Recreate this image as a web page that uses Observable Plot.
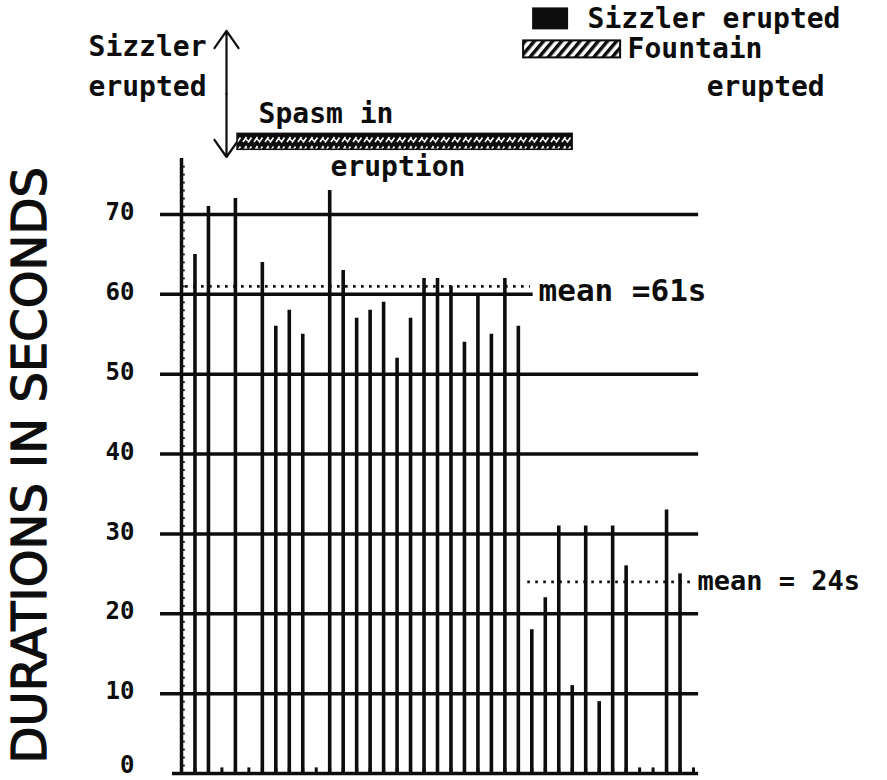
<!DOCTYPE html>
<html><head><meta charset="utf-8">
<script src="https://cdn.jsdelivr.net/npm/d3@7"></script>
<script src="https://cdn.jsdelivr.net/npm/@observablehq/plot@0.6"></script>
<style>body{margin:0;background:#fff} svg{display:block}</style>
</head><body><div id="chart"></div>
<script>
// eruption slots along the x axis (1..38)
const slots = [1,2,3,4,5,6,7,8,9,10,11,12,13,14,15,16,17,18,19,20,21,22,23,24,25,26,27,28,29,30,31,32,33,34,35,36,37,38];
// durations in seconds (null = no eruption in that slot)
const durations = [65,71,null,72,null,64,56,58,55,null,73,63,57,58,59,52,57,62,62,61,54,60,55,62,56,18,22,31,11,31,9,31,26,null,null,33,25,null];
const gridValues = [10,20,30,40,50,60,70];
const yTicks = [0,10,20,30,40,50,60,70];
const meanBefore = 61, meanAfter = 24;
const meanLabels = ["mean =61s", "mean = 24s"];
const yTitle = "DURATIONS IN SECONDS";
const annoLeft = ["Sizzler", "erupted"];
const spasmLabels = ["Spasm in", "eruption"];
const legendLabels = ["Sizzler erupted", "Fountain", "erupted"];

const bars = slots.map((s, i) => ({slot: s, dur: durations[i]})).filter(d => d.dur != null);
const ink = "#0d0d0d";
const mono = "DejaVu Sans Mono";
const txt = (label, x, y, size = 28) =>
  Plot.text([label], {x, y, text: d => d, textAnchor: "start", fontSize: size, fontWeight: "bold", fill: ink});

const chart = Plot.plot({
  width: 887, height: 780,
  marginLeft: 181, marginRight: 194, marginTop: 214, marginBottom: 7,
  x: {type: "linear", domain: [0, 38], axis: null},
  y: {domain: [0, 70], axis: null},
  style: {fontFamily: mono, color: ink, background: "#fff"},
  marks: [
    // horizontal grid lines
    Plot.ruleY(gridValues, {x1: -1.56, x2: d => d === 60 ? 26.1 : 38.38, stroke: ink, strokeWidth: 3.5}),
    // baseline
    Plot.ruleY([0], {x1: -0.67, x2: 38.38, stroke: ink, strokeWidth: 3.5}),
    // y axis line and minor ticks
    Plot.ruleX([0], {y1: 0, y2: 77, stroke: ink, strokeWidth: 3.5}),
    Plot.ruleY(d3.range(1, 77), {x1: 0, x2: 0.28, stroke: ink, strokeWidth: 1.8}),
    // small x ticks at each slot
    Plot.ruleX(slots, {y1: 0, y2: 0.7, stroke: ink, strokeWidth: 3}),
    // bars
    Plot.ruleX(bars, {x: "slot", y1: 0, y2: "dur", stroke: ink, strokeWidth: 3.6}),
    // mean lines
    Plot.ruleY([meanBefore], {x1: 0.3, x2: 25.9, stroke: ink, strokeWidth: 2.6, strokeDasharray: "2.6,5.4"}),
    Plot.ruleY([meanAfter], {x1: 25.7, x2: 37.8, stroke: ink, strokeWidth: 2.6, strokeDasharray: "2.6,5.4"}),
    txt(meanLabels[0], 26.5, 60.4, 31),
    txt(meanLabels[1], 38.3, 24.1, 27),
    // y tick labels
    Plot.text(yTicks.filter(d => d > 0), {x: 0, y: d => d, dx: -47, dy: -2, text: d => String(d), textAnchor: "end", fontSize: 24, fontWeight: "bold", fill: ink}),
    Plot.text(yTicks.filter(d => d === 0), {x: 0, y: d => d, dx: -47, dy: -8, text: d => String(d), textAnchor: "end", fontSize: 24, fontWeight: "bold", fill: ink}),
    // y title
    Plot.text([yTitle], {x: -11.2, y: 38.6, text: d => d, rotate: -90, fontSize: 48, fontFamily: "DejaVu Sans", stroke: ink, strokeWidth: 1.2, fill: ink}),
    // left annotation
    txt(annoLeft[0], -6.9, 91.0),
    txt(annoLeft[1], -6.9, 85.9),
    Plot.arrow([{a: 85.1, b: 93.0}, {a: 85.1, b: 77.2}], {x1: 3.34, x2: 3.34, y1: "a", y2: "b", stroke: ink, strokeWidth: 2.2, headLength: 16, headAngle: 70}),
    // spasm bar
    txt(spasmLabels[0], 5.72, 82.6),
    Plot.rect([0], {x1: 4.16, x2: 29.03, y1: 78.1, y2: 80.1, fill: "url(#spasm)", stroke: ink, strokeWidth: 1.5}),
    txt(spasmLabels[1], 11.06, 75.9),
    // legend
    Plot.rect([0], {x1: 26.06, x2: 28.73, y1: 93.12, y2: 95.87, fill: ink}),
    txt(legendLabels[0], 30.14, 94.5),
    Plot.rect([0], {x1: 25.39, x2: 32.59, y1: 89.61, y2: 91.74, fill: "url(#fountain)", stroke: ink, strokeWidth: 2}),
    txt(legendLabels[1], 33.11, 90.74),
    txt(legendLabels[2], 38.98, 85.9)
  ]
});

const ns = "http://www.w3.org/2000/svg";
const defs = document.createElementNS(ns, "defs");
defs.innerHTML = `
<pattern id="spasm" width="11" height="9" patternUnits="userSpaceOnUse">
  <rect width="11" height="9" fill="${ink}"/>
  <path d="M1,7 L4.5,2 M6,7.5 L9.5,2.5 M3.5,3.5 L6,6" stroke="#fff" stroke-width="1.6" fill="none"/>
</pattern>
<pattern id="fountain" width="7" height="7" patternUnits="userSpaceOnUse" patternTransform="rotate(40)">
  <rect width="7" height="7" fill="#fff"/>
  <rect x="0" y="0" width="3.5" height="7" fill="${ink}"/>
</pattern>`;
chart.prepend(defs);
document.getElementById("chart").appendChild(chart);
</script>
</body></html>
